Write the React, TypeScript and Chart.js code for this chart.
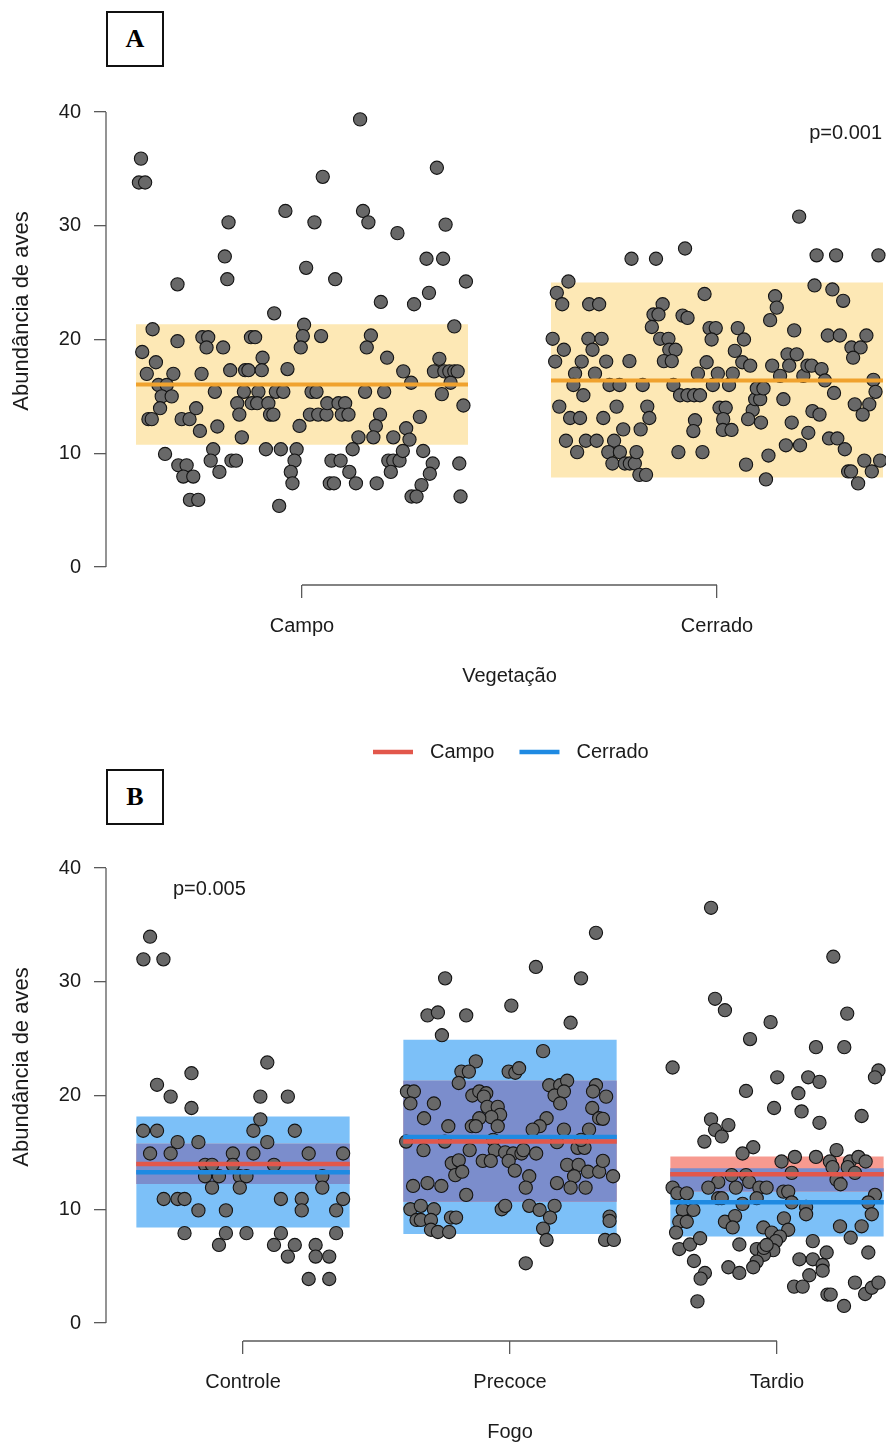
import React, { useEffect, useRef } from "react";
import { Chart, registerables } from "chart.js";

Chart.register(...registerables);

// ---------------- data ----------------
const yTicks = [0, 10, 20, 30, 40];
const vegCategories = ["Campo", "Cerrado"];
const fireCategories = ["Controle", "Precoce", "Tardio"];
const seriesNames = ["Campo", "Cerrado"];
const yTitle = "Abundância de aves";
const vegTitle = "Vegetação";
const fireTitle = "Fogo";
const pVeg = "p=0.001";
const pFire = "p=0.005";
const panelLetters = ["A", "B"];

// fitted [lower, mean, upper] per vegetation (panel A)
const vegFitCampo = [10.75, 16.05, 21.35];
const vegFitCerrado = [7.86, 16.39, 25.0];

// fitted [lower, mean, upper] per fire category (panel B)
const fireFitCampo = [
  [12.23, 13.97, 15.75],
  [10.67, 15.95, 21.3],
  [11.55, 13.08, 14.63],
];
const fireFitCerrado = [
  [8.39, 13.25, 18.15],
  [7.83, 16.36, 24.9],
  [7.6, 10.62, 13.6],
];

// observations: [jitter offset from category, abundance]
const vegCampoPts: [number, number][] = [
  [-0.388, 35.9], [-0.393, 33.8], [-0.378, 33.8], [0.14, 39.35], [0.05, 34.3], [0.325, 35.1],
  [-0.04, 31.3], [0.147, 31.3], [0.16, 30.3], [0.03, 30.3], [-0.177, 30.3], [0.346, 30.1],
  [0.23, 29.35], [-0.186, 27.3], [-0.18, 25.3], [0.01, 26.3], [0.08, 25.3], [-0.3, 24.85],
  [0.3, 27.1], [0.34, 27.1], [0.306, 24.1], [0.19, 23.3], [0.27, 23.1], [-0.067, 22.3],
  [0.395, 25.1], [-0.36, 20.9], [-0.3, 19.85], [-0.24, 20.2], [-0.226, 20.2], [-0.23, 19.3],
  [-0.19, 19.3], [-0.123, 20.2], [-0.113, 20.2], [0.005, 21.3], [0.002, 20.3], [0.046, 20.3],
  [-0.003, 19.3], [0.166, 20.35], [0.156, 19.3], [-0.385, 18.9], [-0.352, 18.0], [-0.095, 18.4],
  [0.205, 18.4], [0.331, 18.3], [0.367, 21.15], [-0.374, 16.98], [-0.31, 16.98], [-0.242, 16.98],
  [-0.173, 17.3], [-0.137, 17.3], [-0.129, 17.3], [-0.097, 17.3], [-0.035, 17.4], [0.244, 17.2],
  [0.318, 17.2], [0.343, 17.2], [0.355, 17.2], [0.367, 17.2], [0.375, 17.2], [-0.346, 16.0],
  [-0.326, 16.0], [-0.338, 15.0], [-0.314, 15.0], [-0.342, 13.96], [-0.37, 13.0], [-0.362, 13.0],
  [-0.29, 13.0], [-0.271, 13.0], [-0.255, 13.96], [-0.246, 11.96], [-0.204, 12.35], [-0.21, 15.4],
  [-0.14, 15.4], [-0.105, 15.4], [-0.063, 15.4], [-0.045, 15.4], [-0.156, 14.4], [-0.151, 13.4],
  [-0.121, 14.4], [-0.108, 14.4], [-0.081, 14.4], [-0.077, 13.4], [-0.069, 13.4], [-0.145, 11.4],
  [-0.006, 12.4], [0.023, 15.4], [0.035, 15.4], [0.019, 13.4], [0.039, 13.4], [0.059, 13.4],
  [0.061, 14.4], [0.088, 14.4], [0.104, 14.4], [0.096, 13.4], [0.112, 13.4], [0.152, 15.4],
  [0.198, 15.4], [0.188, 13.4], [0.178, 12.4], [0.172, 11.4], [0.136, 11.4], [0.22, 11.4],
  [0.251, 12.2], [0.259, 11.2], [0.263, 16.2], [0.284, 13.2], [0.337, 15.2], [0.358, 16.2],
  [0.389, 14.2], [-0.33, 9.94], [-0.298, 8.94], [-0.278, 8.94], [-0.286, 7.95], [-0.262, 7.95],
  [-0.27, 5.9], [-0.25, 5.9], [-0.214, 10.35], [-0.22, 9.35], [-0.199, 8.36], [-0.17, 9.35],
  [-0.159, 9.35], [-0.087, 10.35], [-0.051, 10.35], [-0.013, 10.35], [-0.018, 9.35], [-0.027, 8.36],
  [-0.023, 7.36], [-0.055, 5.37], [0.071, 9.35], [0.093, 9.35], [0.067, 7.36], [0.077, 7.36],
  [0.114, 8.36], [0.13, 7.36], [0.122, 10.35], [0.18, 7.36], [0.208, 9.35], [0.22, 9.35],
  [0.235, 9.35], [0.214, 8.36], [0.243, 10.2], [0.292, 10.2], [0.315, 9.1], [0.308, 8.2],
  [0.288, 7.2], [0.264, 6.2], [0.276, 6.2], [0.379, 9.1], [0.382, 6.2],
];

const vegCerradoPts: [number, number][] = [
  [0.198, 30.8], [-0.206, 27.1], [-0.147, 27.1], [-0.077, 28.0], [0.24, 27.4], [0.287, 27.4],
  [0.389, 27.4], [-0.358, 25.1], [-0.386, 24.1], [-0.373, 23.1], [-0.308, 23.1], [-0.284, 23.1],
  [-0.131, 23.1], [-0.153, 22.2], [-0.141, 22.2], [-0.157, 21.1], [-0.083, 22.1], [-0.071, 21.9],
  [-0.03, 24.0], [0.14, 23.8], [0.144, 22.8], [0.128, 21.7], [0.235, 24.75], [0.278, 24.4],
  [0.304, 23.4], [-0.396, 20.06], [-0.369, 19.1], [-0.31, 20.06], [-0.278, 20.06], [-0.3, 19.1],
  [-0.39, 18.06], [-0.326, 18.06], [-0.267, 18.06], [-0.211, 18.1], [-0.342, 17.0], [-0.294, 17.0],
  [-0.346, 16.0], [-0.322, 15.1], [-0.38, 14.1], [-0.354, 13.1], [-0.33, 13.1], [-0.274, 13.1],
  [-0.242, 14.1], [-0.364, 11.1], [-0.316, 11.1], [-0.29, 11.1], [-0.337, 10.1], [-0.248, 11.1],
  [-0.262, 10.1], [-0.234, 10.1], [-0.252, 9.1], [-0.222, 9.1], [-0.21, 9.1], [-0.198, 9.1],
  [-0.194, 10.1], [-0.187, 8.1], [-0.171, 8.1], [-0.226, 12.1], [-0.184, 12.1], [-0.168, 14.1],
  [-0.163, 13.1], [-0.259, 16.0], [-0.235, 16.0], [-0.179, 16.0], [-0.137, 20.06], [-0.117, 20.06],
  [-0.115, 19.1], [-0.1, 19.1], [-0.128, 18.1], [-0.109, 18.1], [-0.105, 16.0], [-0.089, 15.1],
  [-0.071, 15.1], [-0.055, 15.1], [-0.041, 15.1], [-0.093, 10.1], [-0.035, 10.1], [-0.053, 12.9],
  [-0.057, 11.95], [-0.046, 17.0], [-0.025, 18.0], [-0.018, 21.0], [-0.003, 21.0], [-0.013, 20.0],
  [-0.01, 16.0], [0.002, 17.0], [0.006, 14.0], [0.021, 14.0], [0.015, 13.0], [0.014, 12.05],
  [0.035, 12.05], [0.029, 16.0], [0.038, 17.0], [0.05, 21.0], [0.065, 20.0], [0.043, 19.0],
  [0.061, 18.0], [0.08, 17.7], [0.086, 13.8], [0.075, 13.0], [0.092, 14.75], [0.104, 14.75],
  [0.096, 15.7], [0.112, 15.7], [0.106, 12.7], [0.07, 9.0], [0.124, 9.8], [0.118, 7.7],
  [0.133, 17.7], [0.152, 16.8], [0.16, 14.75], [0.166, 10.7], [0.18, 12.7], [0.186, 20.8],
  [0.17, 18.7], [0.192, 18.7], [0.174, 17.7], [0.2, 10.7], [0.208, 16.8], [0.218, 17.7],
  [0.228, 17.7], [0.22, 11.8], [0.23, 13.7], [0.247, 13.4], [0.252, 17.4], [0.26, 16.4],
  [0.282, 15.3], [0.267, 20.35], [0.296, 20.35], [0.27, 11.3], [0.29, 11.3], [0.308, 10.35],
  [0.324, 19.3], [0.346, 19.3], [0.328, 18.4], [0.36, 20.35], [0.332, 14.3], [0.367, 14.3],
  [0.351, 13.4], [0.377, 16.45], [0.382, 15.4], [0.355, 9.35], [0.393, 9.35], [0.316, 8.4],
  [0.323, 8.4], [0.373, 8.4], [0.34, 7.35],
];

const fireControlePts: [number, number][] = [
  [-0.348, 33.96], [-0.373, 31.97], [-0.298, 31.97], [-0.322, 20.94], [-0.271, 19.9], [-0.193, 21.96],
  [-0.193, 18.9], [0.091, 22.9], [0.065, 19.9], [0.168, 19.9], [0.065, 17.9], [0.039, 16.9],
  [0.194, 16.9], [-0.374, 16.9], [-0.322, 16.9], [-0.245, 15.9], [-0.167, 15.9], [0.091, 15.9],
  [-0.348, 14.9], [-0.271, 14.9], [-0.038, 14.9], [0.039, 14.9], [0.246, 14.9], [0.375, 14.9],
  [-0.142, 13.9], [-0.116, 13.9], [-0.038, 13.9], [0.116, 13.9], [-0.142, 12.9], [-0.09, 12.9],
  [-0.012, 12.9], [0.013, 12.9], [0.297, 12.9], [-0.116, 11.9], [-0.012, 11.9], [0.297, 11.9],
  [-0.297, 10.9], [-0.245, 10.9], [-0.219, 10.9], [0.142, 10.9], [0.22, 10.9], [0.375, 10.9],
  [-0.167, 9.9], [-0.064, 9.9], [0.22, 9.9], [0.349, 9.9], [-0.219, 7.9], [-0.064, 7.9],
  [0.013, 7.9], [0.142, 7.9], [0.349, 7.9], [-0.09, 6.86], [0.116, 6.86], [0.194, 6.86],
  [0.272, 6.86], [0.168, 5.84], [0.272, 5.84], [0.323, 5.84], [0.246, 3.87], [0.323, 3.87],
];

const firePrecocePts: [number, number][] = [
  [-0.243, 30.3], [0.097, 31.3], [0.322, 34.3], [0.266, 30.3], [-0.309, 27.04], [-0.27, 27.3],
  [-0.164, 27.04], [0.005, 27.9], [0.227, 26.4], [-0.255, 25.3], [0.124, 23.9], [-0.128, 23.0],
  [-0.182, 22.1], [-0.154, 22.1], [-0.005, 22.1], [0.02, 22.0], [0.034, 22.4], [-0.192, 21.1],
  [-0.386, 20.35], [-0.36, 20.35], [-0.373, 19.3], [-0.285, 19.3], [-0.322, 18.0], [-0.141, 20.0],
  [-0.115, 20.35], [-0.089, 20.2], [-0.098, 19.9], [-0.085, 19.0], [-0.046, 19.0], [-0.037, 18.3],
  [-0.07, 18.1], [-0.115, 18.0], [-0.143, 17.3], [-0.128, 17.3], [-0.046, 17.3], [-0.231, 17.3],
  [0.147, 20.9], [0.188, 20.9], [0.214, 21.3], [0.167, 20.0], [0.202, 20.35], [0.188, 19.3],
  [0.137, 18.0], [0.111, 17.3], [0.085, 17.0], [0.202, 17.0], [0.296, 17.0], [0.322, 20.9],
  [0.311, 20.35], [0.36, 19.9], [0.308, 18.9], [0.334, 18.0], [0.348, 17.95], [-0.389, 15.95],
  [-0.244, 15.95], [-0.324, 15.2], [-0.151, 15.2], [-0.063, 16.1], [-0.057, 15.2], [-0.018, 15.0],
  [0.012, 14.9], [0.043, 14.9], [0.05, 15.2], [0.098, 14.9], [0.176, 15.9], [0.253, 15.4],
  [0.279, 15.4], [0.266, 16.1], [-0.102, 14.25], [-0.072, 14.25], [-0.005, 14.25], [0.018, 13.4],
  [-0.218, 14.05], [-0.192, 14.3], [-0.205, 13.0], [-0.179, 13.3], [0.072, 12.9], [0.059, 11.9],
  [0.214, 13.9], [0.257, 13.9], [0.24, 12.9], [0.227, 11.9], [0.176, 12.3], [0.292, 13.3],
  [0.334, 13.3], [0.348, 14.25], [0.283, 11.9], [0.386, 12.9], [-0.363, 12.05], [-0.309, 12.3],
  [-0.257, 12.05], [-0.164, 11.26], [-0.373, 10.0], [-0.334, 10.3], [-0.285, 10.0], [-0.35, 9.06],
  [-0.334, 9.06], [-0.296, 9.06], [-0.296, 8.2], [-0.27, 8.0], [-0.228, 8.0], [-0.221, 9.27],
  [-0.202, 9.27], [-0.031, 10.0], [-0.018, 10.3], [0.072, 10.3], [0.111, 9.94], [0.167, 10.3],
  [0.15, 9.27], [0.124, 8.3], [0.137, 7.3], [0.373, 9.35], [0.373, 8.97], [0.356, 7.3],
  [0.389, 7.3], [0.059, 5.25],
];

const fireTardioPts: [number, number][] = [
  [-0.247, 36.5], [0.211, 32.2], [-0.232, 28.5], [-0.195, 27.5], [0.263, 27.2], [-0.024, 26.45],
  [-0.101, 24.96], [0.146, 24.25], [0.252, 24.25], [-0.391, 22.46], [0.001, 21.6], [0.117, 21.6],
  [0.159, 21.2], [0.38, 22.2], [0.367, 21.6], [-0.116, 20.4], [0.08, 20.2], [-0.011, 18.9],
  [0.092, 18.6], [0.159, 17.6], [0.317, 18.2], [-0.247, 17.9], [-0.232, 16.98], [-0.207, 16.4],
  [-0.182, 17.4], [-0.272, 15.95], [-0.089, 15.45], [-0.129, 14.9], [0.017, 14.2], [0.067, 14.6],
  [0.146, 14.6], [0.223, 15.2], [0.198, 14.2], [0.208, 13.7], [0.273, 14.2], [0.305, 14.6],
  [0.332, 14.2], [0.055, 13.2], [0.265, 13.7], [0.292, 13.2], [0.223, 12.6], [0.238, 12.2],
  [-0.17, 13.0], [-0.116, 13.0], [-0.104, 12.4], [-0.22, 12.4], [-0.257, 11.9], [-0.154, 11.9],
  [-0.066, 11.9], [-0.039, 11.9], [-0.391, 11.9], [-0.373, 11.4], [-0.338, 11.4], [-0.22, 10.97],
  [-0.207, 10.97], [-0.076, 10.97], [0.024, 11.55], [0.042, 11.55], [-0.129, 10.47], [0.055, 10.6],
  [0.109, 10.2], [0.109, 9.56], [0.367, 11.26], [0.342, 10.6], [0.355, 9.56], [-0.353, 9.94],
  [-0.313, 9.94], [-0.366, 8.9], [-0.338, 8.9], [-0.378, 7.95], [-0.195, 8.9], [-0.157, 9.4],
  [-0.166, 8.4], [0.026, 9.2], [0.042, 8.2], [-0.051, 8.4], [-0.02, 7.95], [0.011, 7.6],
  [-0.004, 7.2], [-0.014, 6.4], [0.236, 8.5], [0.317, 8.5], [0.276, 7.5], [-0.366, 6.5],
  [-0.326, 6.9], [-0.288, 7.45], [-0.311, 5.45], [-0.27, 4.4], [-0.286, 3.9], [-0.298, 1.9],
  [-0.141, 6.9], [-0.182, 4.9], [-0.141, 4.4], [-0.076, 6.5], [-0.049, 6.0], [-0.049, 6.6],
  [-0.076, 5.4], [-0.089, 4.9], [-0.039, 6.86], [0.134, 7.2], [0.084, 5.6], [0.134, 5.6],
  [0.186, 6.2], [0.171, 5.1], [0.171, 4.6], [0.121, 4.2], [0.064, 3.2], [0.096, 3.2],
  [0.189, 2.5], [0.201, 2.5], [0.251, 1.5], [0.342, 6.2], [0.292, 3.55], [0.33, 2.55],
  [0.355, 3.1], [0.38, 3.55],
];

// ---------------- style ----------------
const FONT = '"Liberation Sans", Arial, Helvetica, sans-serif';
const TEXT = "#1b1b1b";
const AXIS = "#5a5a5a";
const BAND_HALF = 0.4;
const PT_FILL = "#686868";
const PT_EDGE = "#141414";
const ORANGE_BAND = "#fde8b5";
const ORANGE_LINE = "#f0a22e";
const RED_BAND = "#f79a90";
const BLUE_BAND = "#7cc0f8";
const OVERLAP_BAND = "#7b8dcc";
const RED_LINE = "#e2574b";
const BLUE_LINE = "#1f8ae2";
const W = 886;

type Pt = { x: number; y: number };

function pointsDs(pts: [number, number][], cat: number) {
  return {
    type: "scatter" as const,
    data: pts.map(([j, v]) => ({ x: cat + j, y: v })),
    pointRadius: 6.6,
    pointBackgroundColor: PT_FILL,
    pointBorderColor: PT_EDGE,
    pointBorderWidth: 1.1,
    order: 3,
  };
}

function bandDs(cat: number, lower: number, upper: number, color: string, order: number) {
  const data: Pt[] = [
    { x: cat - BAND_HALF, y: upper },
    { x: cat + BAND_HALF, y: upper },
  ];
  return {
    type: "line" as const,
    data,
    borderColor: "rgba(0,0,0,0)",
    borderWidth: 0,
    pointRadius: 0,
    backgroundColor: color,
    fill: { value: lower },
    order,
  };
}

function meanDs(cat: number, mean: number, color: string, width: number) {
  return {
    type: "line" as const,
    data: [
      { x: cat - BAND_HALF, y: mean },
      { x: cat + BAND_HALF, y: mean },
    ],
    borderColor: color,
    borderWidth: width,
    borderCapStyle: "butt" as const,
    pointRadius: 0,
    fill: false,
    order: 0,
  };
}

type PanelCfg = {
  categories: string[];
  xTitle: string;
  pText: string;
  pX: number;
  pY: number;
  pAlign: CanvasTextAlign;
  legend: boolean;
};

function rAxesPlugin(cfg: PanelCfg) {
  return {
    id: "rAxes",
    afterDraw(chart: any) {
      const { ctx, chartArea } = chart;
      const x = chart.scales.x;
      const y = chart.scales.y;
      ctx.save();
      ctx.strokeStyle = AXIS;
      ctx.lineWidth = 1.3;
      const lx = chartArea.left;
      ctx.beginPath();
      ctx.moveTo(lx, y.getPixelForValue(yTicks[0]));
      ctx.lineTo(lx, y.getPixelForValue(yTicks[yTicks.length - 1]));
      ctx.stroke();
      const x0 = x.getPixelForValue(1);
      const x1 = x.getPixelForValue(cfg.categories.length);
      const by = chartArea.bottom;
      ctx.beginPath();
      ctx.moveTo(x0, by);
      ctx.lineTo(x1, by);
      ctx.stroke();

      ctx.fillStyle = TEXT;
      ctx.font = `20px ${FONT}`;
      ctx.textBaseline = "middle";
      ctx.textAlign = "center";
      ctx.fillText(cfg.xTitle, (x0 + x1) / 2, by + 91);

      ctx.save();
      ctx.font = `22px ${FONT}`;
      ctx.translate(22, y.getPixelForValue(yTicks[yTicks.length - 1]) + 199);
      ctx.rotate(-Math.PI / 2);
      ctx.fillText(yTitle, 0, 0);
      ctx.restore();

      ctx.textAlign = cfg.pAlign;
      ctx.fillText(cfg.pText, cfg.pX, cfg.pY);

      if (cfg.legend) {
        const colors = [RED_LINE, BLUE_LINE];
        let lx0 = 373;
        const ly = 52;
        ctx.textAlign = "left";
        seriesNames.forEach((name, i) => {
          ctx.strokeStyle = colors[i];
          ctx.lineWidth = 4.5;
          ctx.beginPath();
          ctx.moveTo(lx0, ly);
          ctx.lineTo(lx0 + 40, ly);
          ctx.stroke();
          ctx.fillText(name, lx0 + 57, ly);
          lx0 += 57 + ctx.measureText(name).width + 25;
        });
      }
      ctx.restore();
    },
  };
}

function scalesFor(cats: string[], xmin: number, xmax: number, xHeight: number) {
  return {
    x: {
      type: "linear" as const,
      min: xmin,
      max: xmax,
      afterBuildTicks: (s: any) => {
        s.ticks = cats.map((_, i) => ({ value: i + 1 }));
      },
      afterFit: (s: any) => {
        s.height = xHeight;
      },
      ticks: {
        autoSkip: false,
        maxRotation: 0,
        padding: 16,
        color: TEXT,
        font: { family: FONT, size: 20 },
        callback: (v: any) => cats[Math.round(Number(v)) - 1] ?? "",
      },
      grid: { drawOnChartArea: false, drawTicks: true, tickLength: 13, color: AXIS, lineWidth: 1.3 },
      border: { display: false },
    },
    y: {
      type: "linear" as const,
      min: -1.582,
      max: 41.582,
      afterBuildTicks: (s: any) => {
        s.ticks = yTicks.map((v) => ({ value: v }));
      },
      afterFit: (s: any) => {
        s.width = 106;
      },
      ticks: {
        padding: 13,
        color: TEXT,
        font: { family: FONT, size: 20 },
        callback: (v: any) => String(v),
      },
      grid: { drawOnChartArea: false, drawTicks: true, tickLength: 12, color: AXIS, lineWidth: 1.3 },
      border: { display: false },
    },
  };
}

function PanelA() {
  const ref = useRef<HTMLCanvasElement | null>(null);
  useEffect(() => {
    if (!ref.current) return;
    const fits = [vegFitCampo, vegFitCerrado];
    const datasets: any[] = [];
    fits.forEach((f, i) => {
      datasets.push(bandDs(i + 1, f[0], f[2], ORANGE_BAND, 6));
      datasets.push(meanDs(i + 1, f[1], ORANGE_LINE, 4));
    });
    datasets.push(pointsDs(vegCampoPts, 1));
    datasets.push(pointsDs(vegCerradoPts, 2));
    const chart = new Chart(ref.current, {
      type: "scatter",
      data: { datasets },
      options: {
        animation: false,
        responsive: false,
        devicePixelRatio: 1,
        events: [],
        layout: { autoPadding: false, padding: { top: 94, left: 0, right: 0, bottom: 0 } },
        plugins: { legend: { display: false }, tooltip: { enabled: false } },
        scales: scalesFor(vegCategories, 1 - 196 / 415, 1 - 196 / 415 + 780 / 415, 115),
      },
      plugins: [
        rAxesPlugin({
          categories: vegCategories,
          xTitle: vegTitle,
          pText: pVeg,
          pX: 882,
          pY: 133,
          pAlign: "right",
          legend: false,
        }),
      ],
    });
    return () => chart.destroy();
  }, []);
  return <canvas ref={ref} width={W} height={700} style={{ position: "absolute", left: 0, top: 0, display: "block" }} />;
}

function PanelB() {
  const ref = useRef<HTMLCanvasElement | null>(null);
  useEffect(() => {
    if (!ref.current) return;
    const datasets: any[] = [];
    fireCategories.forEach((_, i) => {
      const r = fireFitCampo[i];
      const b = fireFitCerrado[i];
      const c = i + 1;
      datasets.push(bandDs(c, b[0], b[2], BLUE_BAND, 7));
      datasets.push(bandDs(c, r[0], r[2], RED_BAND, 6));
      const lo = Math.max(r[0], b[0]);
      const hi = Math.min(r[2], b[2]);
      if (hi > lo) datasets.push(bandDs(c, lo, hi, OVERLAP_BAND, 5));
      datasets.push(meanDs(c, r[1], RED_LINE, 4.5));
      datasets.push(meanDs(c, b[1], BLUE_LINE, 4.5));
    });
    datasets.push(pointsDs(fireControlePts, 1));
    datasets.push(pointsDs(firePrecocePts, 2));
    datasets.push(pointsDs(fireTardioPts, 3));
    const chart = new Chart(ref.current, {
      type: "scatter",
      data: { datasets },
      options: {
        animation: false,
        responsive: false,
        devicePixelRatio: 1,
        events: [],
        layout: { autoPadding: false, padding: { top: 150, left: 0, right: 0, bottom: 0 } },
        plugins: { legend: { display: false }, tooltip: { enabled: false } },
        scales: scalesFor(fireCategories, 1 - 137 / 267, 1 - 137 / 267 + 780 / 267, 106),
      },
      plugins: [
        rAxesPlugin({
          categories: fireCategories,
          xTitle: fireTitle,
          pText: pFire,
          pX: 173,
          pY: 189,
          pAlign: "left",
          legend: true,
        }),
      ],
    });
    return () => chart.destroy();
  }, []);
  return <canvas ref={ref} width={W} height={747} style={{ position: "absolute", left: 0, top: 700, display: "block" }} />;
}

function LetterBox({ letter, top }: { letter: string; top: number }) {
  return (
    <div
      style={{
        position: "absolute",
        left: 106,
        top,
        width: 58,
        height: 56,
        boxSizing: "border-box",
        border: "2px solid #111",
        display: "flex",
        alignItems: "center",
        justifyContent: "center",
        fontFamily: '"Liberation Serif", "Times New Roman", serif',
        fontWeight: "bold",
        fontSize: 26,
        color: "#000",
        background: "#fff",
        zIndex: 2,
      }}
    >
      {letter}
    </div>
  );
}

export default function App() {
  return (
    <div style={{ position: "absolute", left: 0, top: 0, width: W, height: 1447, background: "#fff", overflow: "hidden" }}>
      <PanelA />
      <PanelB />
      <LetterBox letter={panelLetters[0]} top={11} />
      <LetterBox letter={panelLetters[1]} top={769} />
    </div>
  );
}
